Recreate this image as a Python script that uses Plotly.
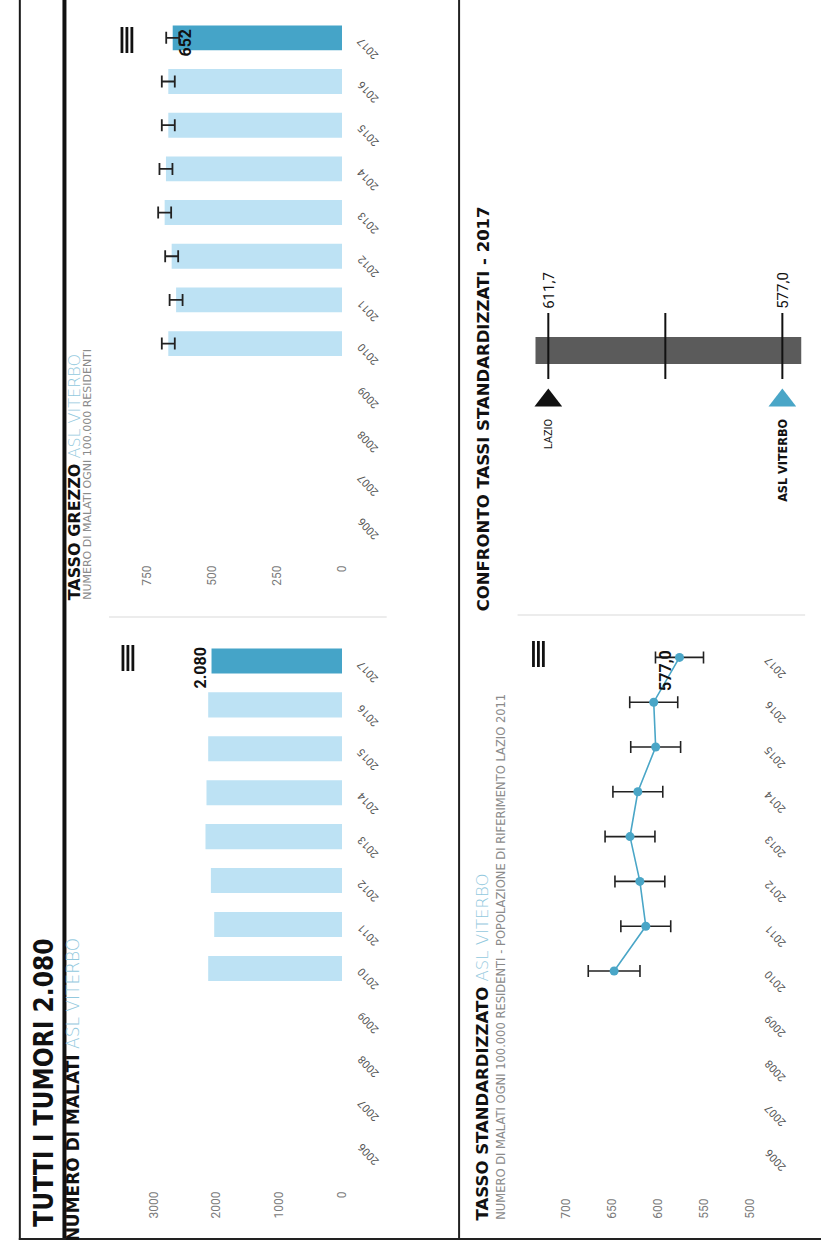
import plotly.graph_objects as go

W, H = 828, 1253

# ---------------------------------------------------------------- data
YEARS = ["2006", "2007", "2008", "2009", "2010", "2011",
         "2012", "2013", "2014", "2015", "2016", "2017"]

MALATI = [None, None, None, None, 2133, 2037, 2090, 2176, 2160, 2133, 2133, 2080]
MALATI_TICKS = [0, 1000, 2000, 3000]

GREZZO = [None, None, None, None, 669, 639, 656, 683, 678, 669, 669, 652]
GREZZO_ERR = [None, None, None, None, 25, 25, 25, 25, 25, 25, 25, 25]
GREZZO_TICKS = [0, 250, 500, 750]

STANDARD = [None, None, None, None, 647.8, 613.5, 619.9, 630.6, 622.1, 602.8, 604.9, 577.0]
STANDARD_ERR = [None, None, None, None, 28, 27, 27, 27, 27, 27, 26, 26]
STANDARD_TICKS = [500, 550, 600, 650, 700]

CONFRONTO_LABELS = ["LAZIO", "ASL VITERBO"]
CONFRONTO_VALUES = [611.7, 577.0]
CONFRONTO_RANGE = [613.6, 574.2]

# ---------------------------------------------------------------- style
LIGHT = "#bde2f4"
DARK = "#45a4c8"
TEAL = "#4aa6c7"
PALE = "#93c9de"
TICK = "#7a7a7a"
TITLE_FONT = "'DejaVu Sans', sans-serif"
NARROW_FONT = "'DejaVu Sans Condensed', 'DejaVu Sans', sans-serif"
SMALL_FONT = "'DejaVu Sans', sans-serif"
NUM_FONT = "Roboto, sans-serif"


def it_num(v, dec=0):
    s = f"{v:,.{dec}f}"
    return s.replace(",", "#").replace(".", ",").replace("#", ".")


def fx(px):
    return px / W


def fy(py):
    return 1 - py / H


fig = go.Figure()

# panel boxes in page pixels: left, right, top, bottom, value at left edge, value at right edge
PANELS = {
    "1": dict(l=110, r=345, t=639, b=1188, v0=3712, v1=0),
    "2": dict(l=110, r=345, t=16, b=562, v0=897, v1=0),
    "3": dict(l=540, r=757, t=635, b=1195, v0=733, v1=500),
}
LAST = len(YEARS) - 1

# ---------------------------------------------------------------- bars: numero di malati
bar_colors = [LIGHT] * LAST + [DARK]
fig.add_trace(go.Bar(
    x=MALATI, y=YEARS, orientation="h", width=0.57,
    marker=dict(color=bar_colors, line=dict(width=0)),
    xaxis="x", yaxis="y", hoverinfo="skip",
))

# ---------------------------------------------------------------- bars: tasso grezzo
fig.add_trace(go.Bar(
    x=GREZZO, y=YEARS, orientation="h", width=0.57,
    marker=dict(color=bar_colors, line=dict(width=0)),
    error_x=dict(type="data", array=GREZZO_ERR, color="#222222", thickness=1.8, width=6),
    xaxis="x2", yaxis="y2", hoverinfo="skip",
))

# ---------------------------------------------------------------- line: tasso standardizzato
fig.add_trace(go.Scatter(
    x=STANDARD, y=YEARS, mode="lines+markers",
    line=dict(color=TEAL, width=1.6),
    marker=dict(color=TEAL, size=9),
    error_x=dict(type="data", array=STANDARD_ERR, color="#222222", thickness=1.6, width=6),
    xaxis="x3", yaxis="y3", hoverinfo="skip", connectgaps=False,
))

# ---------------------------------------------------------------- confronto markers
fig.add_trace(go.Scatter(
    x=CONFRONTO_VALUES, y=[0.21, 0.21], mode="markers",
    marker=dict(symbol="triangle-up", size=24, color=["#111111", TEAL], line=dict(width=0)),
    xaxis="x4", yaxis="y4", hoverinfo="skip",
))


# ---------------------------------------------------------------- axes
def value_axis(p, ticks):
    return dict(
        domain=[fx(p["l"]), fx(p["r"])], range=[p["v0"], p["v1"]],
        tickvals=ticks, ticktext=[str(t) for t in ticks], tickangle=-90,
        tickfont=dict(family=NUM_FONT, size=12, color=TICK),
        showgrid=False, zeroline=False, showline=False, ticks="",
        fixedrange=True,
    )


def cat_axis(p):
    return dict(
        domain=[fy(p["b"]), fy(p["t"])], range=[-1, LAST + 0.5],
        type="category", categoryorder="array", categoryarray=YEARS,
        showticklabels=False, showgrid=False, zeroline=False, showline=False,
        ticks="", fixedrange=True,
    )


layout_axes = {}
for key, ticks in (("1", MALATI_TICKS), ("2", GREZZO_TICKS), ("3", STANDARD_TICKS)):
    sfx = "" if key == "1" else key
    layout_axes[f"xaxis{sfx}"] = value_axis(PANELS[key], ticks)
    layout_axes[f"yaxis{sfx}"] = cat_axis(PANELS[key])
    layout_axes[f"xaxis{sfx}"]["anchor"] = f"y{sfx}"
    layout_axes[f"yaxis{sfx}"]["anchor"] = f"x{sfx}"

# confronto strip: value scale runs right-to-left like the other panels
layout_axes["xaxis4"] = dict(domain=[fx(500), fx(828)], range=[619.49, 571.27], visible=False,
                             fixedrange=True, anchor="y4")
layout_axes["yaxis4"] = dict(domain=[fy(430), fy(290)], range=[0, 1], visible=False,
                             fixedrange=True, anchor="x4")

fig.update_layout(
    width=W, height=H, margin=dict(l=0, r=0, t=0, b=0),
    paper_bgcolor="white", plot_bgcolor="white",
    showlegend=False, barmode="overlay",
    **layout_axes,
)

annotations = []
shapes = []

# year labels beside each category, at the right of every chart
for yref, xpx in (("y", 371), ("y2", 371), ("y3", 782)):
    for i, yr in enumerate(YEARS):
        annotations.append(dict(
            text=yr, x=fx(xpx), xref="paper", y=i, yref=yref, yshift=-10,
            textangle=-133, showarrow=False, xanchor="center", yanchor="middle",
            font=dict(family=NUM_FONT, size=11, color="#555555"),
        ))

# value labels on the last year
annotations.append(dict(
    text=f"<b>{it_num(MALATI[LAST])}</b>", x=MALATI[LAST], xref="x", y=LAST, yref="y",
    xshift=-11, yshift=-7, textangle=-90, showarrow=False, xanchor="center", yanchor="middle",
    font=dict(family=NUM_FONT, size=16, color="#111111"),
))
annotations.append(dict(
    text=f"<b>{it_num(GREZZO[LAST])}</b>", x=GREZZO[LAST], xref="x2", y=LAST, yref="y2",
    xshift=13, yshift=-5, textangle=-90, showarrow=False, xanchor="center", yanchor="middle",
    font=dict(family=NUM_FONT, size=16, color="#111111"),
))
annotations.append(dict(
    text=f"<b>{it_num(STANDARD[LAST], 1)}</b>", x=STANDARD[LAST], xref="x3", y=LAST, yref="y3",
    xshift=-14, yshift=-13, textangle=-90, showarrow=False, xanchor="center", yanchor="middle",
    font=dict(family=NUM_FONT, size=16, color="#111111"),
))


def vtext(text, px, py, size, color="#111111", family=TITLE_FONT, yanchor="bottom", xanchor="center"):
    annotations.append(dict(
        text=text, x=fx(px), y=fy(py), xref="paper", yref="paper", textangle=-90,
        showarrow=False, xanchor=xanchor, yanchor=yanchor,
        font=dict(family=family, size=size, color=color),
    ))


def pale(txt):
    return f"<span style='color:{PALE};font-weight:300'>{txt}</span>"


# headers
vtext("<b>TUTTI I TUMORI 2.080</b>", 44, 1229, 26, family=NARROW_FONT)
vtext(f"<b>NUMERO DI MALATI</b> {pale('ASL VITERBO')}", 74, 1243, 17)
vtext(f"<b>TASSO GREZZO</b> {pale('ASL VITERBO')}", 75, 602, 16)
vtext("NUMERO DI MALATI OGNI 100.000 RESIDENTI", 88, 602, 11, color="#8a8a8a", family=SMALL_FONT)
vtext(f"<b>TASSO STANDARDIZZATO</b> {pale('ASL VITERBO')}", 487, 1222, 16.5)
vtext("NUMERO DI MALATI OGNI 100.000 RESIDENTI - POPOLAZIONE DI RIFERIMENTO LAZIO 2011",
      505, 1222, 11.5, color="#8a8a8a", family=SMALL_FONT)
vtext("<b>CONFRONTO TASSI STANDARDIZZATI - 2017</b>", 488, 613, 16.5)

# confronto strip: band, tick lines, labels
shapes.append(dict(type="rect", xref="x4", yref="paper", x0=CONFRONTO_RANGE[0], x1=CONFRONTO_RANGE[1],
                   y0=fy(364), y1=fy(337), fillcolor="#5b5b5b", line=dict(width=0), layer="below"))
mid = (CONFRONTO_VALUES[0] + CONFRONTO_VALUES[1]) / 2
for v in CONFRONTO_VALUES + [mid]:
    shapes.append(dict(type="line", xref="x4", yref="paper", x0=v, x1=v, y0=fy(379), y1=fy(313),
                       line=dict(color="#111111", width=2)))
for name, v in zip(CONFRONTO_LABELS, CONFRONTO_VALUES):
    annotations.append(dict(
        text=it_num(v, 1), x=v, xref="x4", y=fy(311), yref="paper", textangle=-90,
        showarrow=False, xanchor="center", yanchor="bottom",
        font=dict(family=NUM_FONT, size=15, color="#111111"),
    ))
    bold = name != "LAZIO"
    annotations.append(dict(
        text=f"<b>{name}</b>" if bold else name, x=v, xref="x4", y=fy(417), yref="paper",
        textangle=-90, showarrow=False, xanchor="center", yanchor="top",
        font=dict(family=NARROW_FONT if bold else NUM_FONT, size=12.5 if bold else 11,
                  color="#111111"),
    ))

# menu glyphs (three bars) near each chart
for cx, cy in ((129, 658), (128, 40), (543, 654)):
    for dx in (-5, 0, 5):
        shapes.append(dict(type="line", xref="paper", yref="paper",
                           x0=fx(cx + dx), x1=fx(cx + dx), y0=fy(cy - 13), y1=fy(cy + 13),
                           line=dict(color="#111111", width=2.8)))

# page frame and panel rules
shapes += [
    dict(type="line", xref="paper", yref="paper", x0=fx(20), x1=fx(20), y0=fy(0), y1=fy(1240),
         line=dict(color="#1a1a1a", width=2)),
    dict(type="line", xref="paper", yref="paper", x0=fx(65), x1=fx(65), y0=fy(0), y1=fy(1240),
         line=dict(color="#111111", width=4)),
    dict(type="line", xref="paper", yref="paper", x0=fx(463), x1=fx(463), y0=fy(0), y1=fy(1240),
         line=dict(color="#222222", width=2)),
    dict(type="line", xref="paper", yref="paper", x0=fx(19), x1=fx(828), y0=fy(1239), y1=fy(1239),
         line=dict(color="#222222", width=2)),
    dict(type="line", xref="paper", yref="paper", x0=fx(110), x1=fx(390), y0=fy(617), y1=fy(617),
         line=dict(color="#ececec", width=2)),
    dict(type="line", xref="paper", yref="paper", x0=fx(522), x1=fx(812), y0=fy(615), y1=fy(615),
         line=dict(color="#ececec", width=2)),
]

fig.update_layout(annotations=annotations, shapes=shapes)
fig.write_html("out.html", config={"displayModeBar": False})
